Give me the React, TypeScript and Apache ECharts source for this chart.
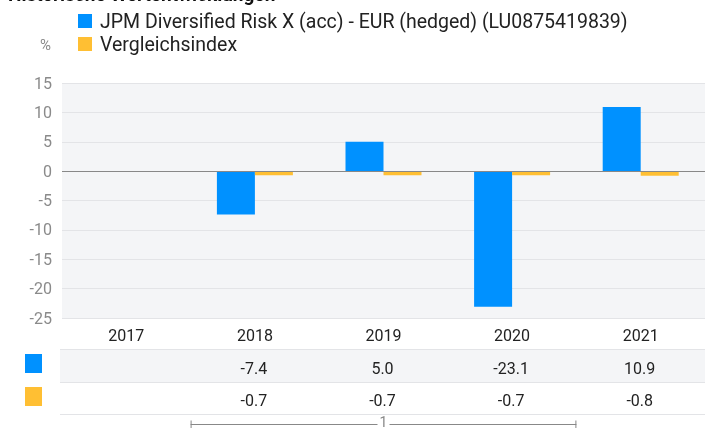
import React, { useEffect, useRef } from "react";
import * as echarts from "echarts";

const TITLE = "Historische Wertentwicklungen";
const SERIES_NAMES = ["JPM Diversified Risk X (acc) - EUR (hedged) (LU0875419839)", "Vergleichsindex"];
const YEARS = ["2017", "2018", "2019", "2020", "2021"];
const FUND = [null, -7.4, 5.0, -23.1, 10.9];
const INDEX = [null, -0.7, -0.7, -0.7, -0.8];
const Y_MIN = -25;
const Y_MAX = 15;
const Y_STEP = 5;
const COLORS = ["#0091ff", "#ffbf33"];
const FONT = "Roboto";

export default function App() {
  const ref = useRef<HTMLDivElement>(null);
  useEffect(() => {
    if (!ref.current) return;
    const chart = echarts.init(ref.current, null, { renderer: "svg" });
    const option: any = {
      animation: false,
      textStyle: { fontFamily: FONT },
      legend: {
        orient: "vertical",
        left: 73,
        top: 6,
        itemWidth: 14,
        itemHeight: 14,
        itemGap: 3,
        icon: "rect",
        textStyle: { fontSize: 19.5, color: "#222", fontFamily: FONT, padding: [6, 0, 0, 3] },
        data: SERIES_NAMES,
      },
      grid: {
        left: 62,
        right: -7,
        top: 83,
        bottom: 110,
        show: true,
        backgroundColor: "#f4f5f7",
        borderWidth: 0,
      },
      xAxis: {
        type: "category",
        data: YEARS,
        axisLine: { show: false },
        axisTick: { show: false },
        axisLabel: { fontSize: 16, color: "#222", margin: 9, fontFamily: FONT },
      },
      yAxis: {
        type: "value",
        min: Y_MIN,
        max: Y_MAX,
        interval: Y_STEP,
        axisLine: { show: false },
        axisTick: { show: false },
        axisLabel: { fontSize: 16, color: "#8a8a8a", margin: 10, fontFamily: FONT },
        splitLine: { lineStyle: { color: "#e3e4e7", width: 1 } },
      },
      series: [
        {
          name: SERIES_NAMES[0],
          type: "bar",
          data: FUND,
          barWidth: 38,
          barGap: "0%",
          itemStyle: { color: COLORS[0] },
          markLine: {
            silent: true,
            symbol: "none",
            label: { show: false },
            lineStyle: { color: "#888", type: "solid", width: 1 },
            data: [{ yAxis: 0 }],
          },
        },
        {
          name: SERIES_NAMES[1],
          type: "bar",
          data: INDEX,
          barWidth: 38,
          barGap: "0%",
          itemStyle: { color: COLORS[1] },
        },
      ],
    };
    chart.setOption(option);

    const xs = YEARS.map((y) => chart.convertToPixel({ xAxisIndex: 0 }, y) as number);
    const step = xs[1] - xs[0];
    const graphics: any[] = [];
    graphics.push({
      type: "text",
      left: 8,
      top: -15,
      style: { text: TITLE, font: `bold 19px ${FONT}`, fill: "#111" },
    });
    graphics.push({
      type: "text",
      left: 40,
      top: 37,
      style: { text: "%", font: `15px ${FONT}`, fill: "#8a8a8a" },
    });
    // table
    graphics.push({ type: "rect", shape: { x: 60, y: 349, width: 645, height: 33 }, style: { fill: "#f4f5f7" } });
    [349, 382, 414].forEach((y) =>
      graphics.push({ type: "line", shape: { x1: 60, y1: y + 0.5, x2: 705, y2: y + 0.5 }, style: { stroke: "#e3e4e7", lineWidth: 1 } })
    );
    graphics.push({ type: "rect", shape: { x: 25, y: 354, width: 17, height: 19 }, style: { fill: COLORS[0] } });
    graphics.push({ type: "rect", shape: { x: 25, y: 387, width: 17, height: 19 }, style: { fill: COLORS[1] } });
    [FUND, INDEX].forEach((arr, r) => {
      arr.forEach((v, i) => {
        if (v === null) return;
        graphics.push({
          type: "text",
          x: xs[i] - 1,
          y: r === 0 ? 368 : 400,
          style: {
            text: (v as number).toFixed(1),
            font: `16px ${FONT}`,
            fill: "#222",
            textAlign: "center",
            textVerticalAlign: "middle",
          },
        });
      });
    });
    // bracket
    const bx1 = xs[0] + step / 2;
    const bx2 = xs[3] + step / 2;
    const bmid = (bx1 + bx2) / 2;
    const by = 424.5;
    const lineStyle = { stroke: "#888", lineWidth: 1 };
    graphics.push({ type: "line", shape: { x1: bx1, y1: by, x2: bmid - 6, y2: by }, style: lineStyle });
    graphics.push({ type: "line", shape: { x1: bmid + 6, y1: by, x2: bx2, y2: by }, style: lineStyle });
    graphics.push({ type: "line", shape: { x1: bx1 + 0.5, y1: by - 4, x2: bx1 + 0.5, y2: by + 4 }, style: lineStyle });
    graphics.push({ type: "line", shape: { x1: bx2 - 0.5, y1: by - 4, x2: bx2 - 0.5, y2: by + 4 }, style: lineStyle });
    graphics.push({
      type: "text",
      x: bmid,
      y: 422,
      style: { text: "1", font: `14px ${FONT}`, fill: "#888", textAlign: "center", textVerticalAlign: "middle" },
    });
    chart.setOption({ graphic: graphics });

    return () => chart.dispose();
  }, []);
  return <div ref={ref} style={{ position: "fixed", left: 0, top: 0, width: 705, height: 428 }} />;
}
